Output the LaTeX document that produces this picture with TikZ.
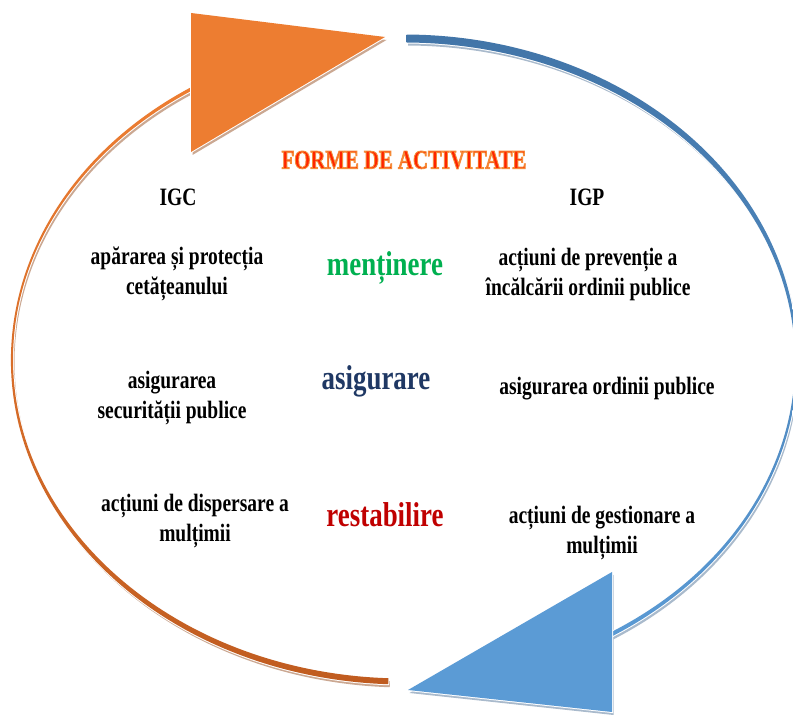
\documentclass[tikz,border=0pt]{standalone}
\usepackage{fontspec}
\newfontfamily\tnr{Liberation Serif}[FakeStretch=0.78]
\definecolor{orA}{HTML}{EE7E32}
\definecolor{orB}{HTML}{C05C20}
\definecolor{orSh}{HTML}{CBA892}
\definecolor{orTri}{HTML}{ED7D31}
\definecolor{blA}{HTML}{4275A8}
\definecolor{blB}{HTML}{5B9BD5}
\definecolor{blSh}{HTML}{A9BACC}
\definecolor{blTri}{HTML}{5B9BD5}
\definecolor{mgreen}{HTML}{00B050}
\definecolor{mnavy}{HTML}{1F3864}
\definecolor{mred}{HTML}{C00000}
\definecolor{ttl}{HTML}{FF2400}
\newcommand\outlinetext[1]{\special{pdf:literal direct 2 Tr 0.9 w 0.96 0.55 0.22 RG}#1\special{pdf:literal direct 0 Tr}}
\tikzset{
  lbl/.style={font=\tnr\bfseries\fontsize{25}{30}\selectfont, align=center, inner sep=0pt, text=black},
  bigword/.style={font=\tnr\bfseries\fontsize{34.5}{40}\selectfont, inner sep=0pt},
  titlelbl/.style={font=\tnr\bfseries\fontsize{26.6}{30}\selectfont, inner sep=0pt, text=ttl},
  glow/.style={draw=white, line width=2pt, line join=miter},
}
\def\orangepath{([shift={(404,355)}]118:393 and 324.5) arc[start angle=118, end angle=267.7, x radius=393, y radius=324.5]
  -- ([shift={(404,356)}]267.7:391 and 319.5) arc[start angle=267.7, end angle=118, x radius=391, y radius=319.5] -- cycle}
\def\bluepath{([shift={(404,355)}]89.6:393.5 and 325.5) arc[start angle=89.6, end angle=-66, x radius=393.5, y radius=325.5]
  -- ([shift={(404,353.5)}]-66:391 and 319) arc[start angle=-66, end angle=89.6, x radius=391, y radius=319] -- cycle}
\def\orangetri{(191,702) -- (385,678) -- (191,563) -- cycle}
\def\bluetri{(612,143) -- (408,25) -- (612,3) -- cycle}
\begin{document}
\begin{tikzpicture}[x=1pt,y=1pt]
\useasboundingbox (0,0) rectangle (793,715);
\fill[white] (0,0) rectangle (793,715);
% shadows
\fill[orSh, shift={(1.5,-3)}] \orangepath;
\fill[blSh, shift={(1.5,-3)}] \bluepath;
\fill[orSh, shift={(1.5,-3)}] \orangetri;
\fill[blSh, shift={(1.5,-3)}] \bluetri;
% arcs
\path[glow] \orangepath;
\path[glow] \bluepath;
\path[top color=orA, bottom color=orB] \orangepath;
\path[top color=blA, bottom color=blB] \bluepath;
% arrow heads
\path[glow] \orangetri;
\path[glow] \bluetri;
\fill[orTri] \orangetri;
\fill[blTri] \bluetri;
% texts
\node[titlelbl] (title) at (404,555) {\outlinetext{FORME DE ACTIVITATE}};
\node[lbl] (igc) at (178,518) {IGC};
\node[lbl] (igp) at (587,518) {IGP};
\node[lbl] (c1) at (177,441) {apărarea și protecția\\cetățeanului};
\node[lbl] (c2) at (172,317) {asigurarea\\securității publice};
\node[lbl] (c3) at (195,194) {acțiuni de dispersare a\\mulțimii};
\node[lbl] (p1) at (588,441) {acțiuni de prevenție a\\încălcării ordinii publice};
\node[lbl] (p2) at (607,326) {asigurarea ordinii publice};
\node[lbl] (p3) at (602,182) {acțiuni de gestionare a\\mulțimii};
\node[bigword, text=mgreen] (w1) at (385,447) {menținere};
\node[bigword, text=mnavy] (w2) at (376,334) {asigurare};
\node[bigword, text=mred] (w3) at (385,200) {restabilire};
\end{tikzpicture}
\end{document}
